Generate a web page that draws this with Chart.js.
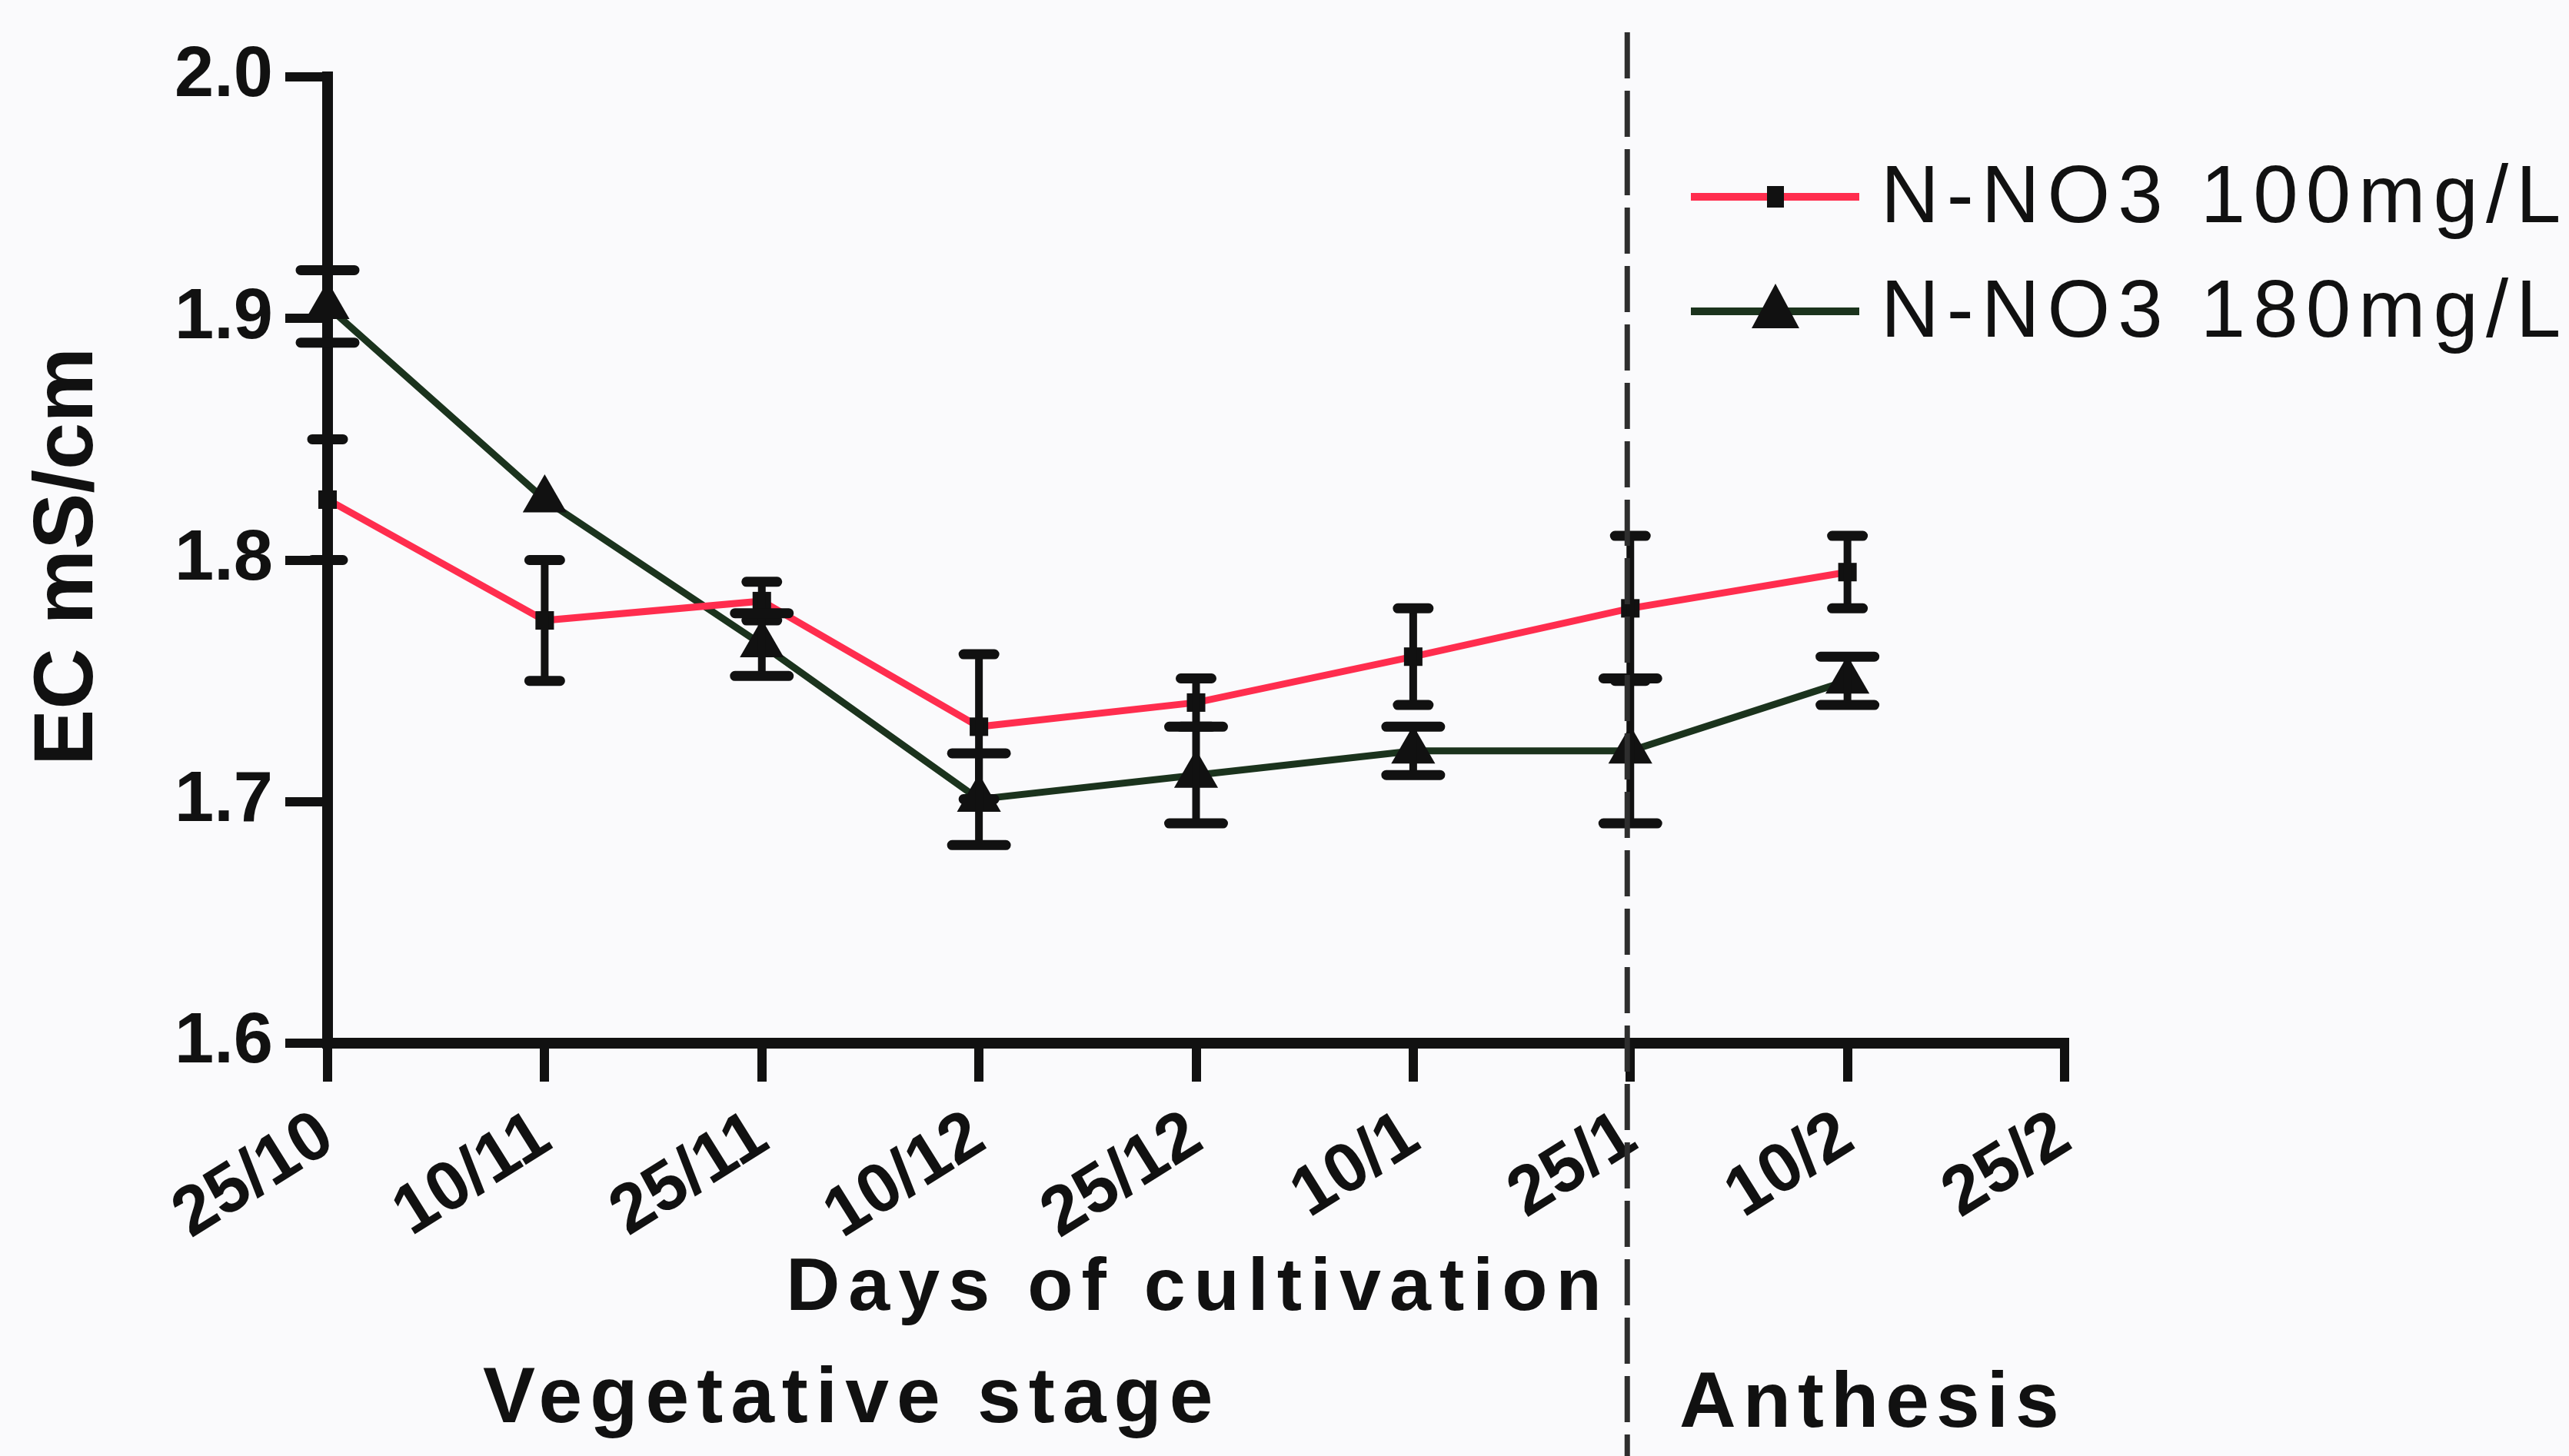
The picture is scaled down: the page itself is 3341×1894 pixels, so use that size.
<!DOCTYPE html>
<html lang="en">
<head>
  <meta charset="UTF-8">
  <title>EC mS/cm</title>
  <script src="https://cdn.jsdelivr.net/npm/chart.js"></script>
  <style>
    html, body { margin: 0; padding: 0; background: #fafafc; }
  </style>
</head>
<body>
  <canvas id="grafico" width="3341" height="1894"></canvas>
  <script>
    // data
    const dias = ["25/10", "10/11", "25/11", "10/12", "25/12", "10/1", "25/1", "10/2", "25/2"];
    const ec100 = [1.825, 1.775, 1.783, 1.731, 1.741, 1.760, 1.780, 1.795, null];
    const erro100 = [0.025, 0.025, 0.008, 0.030, 0.010, 0.020, 0.030, 0.015, null];
    const ec180 = [1.905, 1.825, 1.765, 1.701, 1.711, 1.721, 1.721, 1.750, null];
    const erro180 = [0.015, 0, 0.013, 0.019, 0.020, 0.010, 0.030, 0.010, null];
    const nomes = ["N-NO3 100mg/L", "N-NO3 180mg/L"];
    const yTicks = [1.6, 1.7, 1.8, 1.9, 2.0];
    const tituloY = "EC mS/cm";
    const tituloX = "Days of cultivation";
    const estagios = ["Vegetative stage", "Anthesis"];
    const divisao = "25/1";

    const vermelho = "#ff2d4e";
    const verde = "#1b331d";
    const fonte = "'Liberation Sans', Arial, sans-serif";

    // error bars (green caps are wider than red ones in the original)
    const barrasErro = {
      id: 'barrasErro',
      afterDatasetsDraw(chart) {
        const c = chart.ctx;
        const y = chart.scales.y;
        const erros = [erro100, erro180];
        const capa = [20, 35];
        c.save();
        c.strokeStyle = "#111";
        chart.data.datasets.forEach((ds, i) => {
          const meta = chart.getDatasetMeta(i);
          ds.data.forEach((v, j) => {
            if (v == null || !erros[i][j]) return;
            const px = meta.data[j].x;
            const top = y.getPixelForValue(v + erros[i][j]);
            const bot = y.getPixelForValue(v - erros[i][j]);
            c.lineWidth = 10;
            c.beginPath();
            c.moveTo(px, top);
            c.lineTo(px, bot);
            c.stroke();
            c.lineWidth = 13;
            c.lineCap = "round";
            c.beginPath();
            c.moveTo(px - capa[i], top); c.lineTo(px + capa[i], top);
            c.moveTo(px - capa[i], bot); c.lineTo(px + capa[i], bot);
            c.stroke();
            c.lineCap = "butt";
          });
        });
        c.restore();
      }
    };

    // dashed divider, stage labels, axis titles, legend
    const textos = {
      id: 'textos',
      afterDraw(chart) {
        const c = chart.ctx;
        const x = chart.scales.x;
        const xd = x.getPixelForValue(dias.indexOf(divisao));
        c.save();
        c.strokeStyle = "#2e2e2e";
        c.lineWidth = 7;
        c.setLineDash([60, 16]);
        c.beginPath();
        c.moveTo(xd - 4, 42);
        c.lineTo(xd - 4, 1894);
        c.stroke();
        c.setLineDash([]);

        c.fillStyle = "#111";
        c.textBaseline = "middle";
        c.font = "bold 97px " + fonte;
        c.letterSpacing = "11px";
        c.textAlign = "center";
        c.fillText(tituloX, 1558, 1677);
        c.font = "bold 102px " + fonte;
        c.letterSpacing = "10px";
        c.textAlign = "left";
        c.fillText(estagios[0], 628, 1822);
        c.letterSpacing = "9px";
        c.fillText(estagios[1], 2184, 1828);

        // y title
        c.letterSpacing = "0px";
        c.save();
        c.translate(90, 724);
        c.rotate(-Math.PI / 2);
        c.textAlign = "center";
        c.font = "bold 110px " + fonte;
        c.fillText(tituloY, 0, 0);
        c.restore();

        // legend
        const cores = [vermelho, verde];
        const ys = [256, 405];
        c.font = "105px " + fonte;
        c.letterSpacing = "10px";
        c.textAlign = "left";
        nomes.forEach((n, i) => {
          c.strokeStyle = cores[i];
          c.lineWidth = 10;
          c.beginPath();
          c.moveTo(2199, ys[i]);
          c.lineTo(2418, ys[i]);
          c.stroke();
          c.fillStyle = "#111";
          if (i === 0) {
            c.fillRect(2298, ys[i] - 14, 22, 28);
          } else {
            c.beginPath();
            c.moveTo(2309, ys[i] - 36);
            c.lineTo(2340, ys[i] + 22);
            c.lineTo(2278, ys[i] + 22);
            c.closePath();
            c.fill();
          }
          c.fillText(n, 2446, ys[i] + 4);
        });
        c.restore();
      }
    };

    const grafico = new Chart(document.getElementById('grafico'), {
      type: 'line',
      data: {
        labels: dias,
        datasets: [{
          label: nomes[0],
          data: ec100,
          borderColor: vermelho,
          borderWidth: 9,
          pointStyle: 'rect',
          pointRadius: 17,
          pointBackgroundColor: "#111",
          pointBorderColor: "#111",
          pointBorderWidth: 0,
          tension: 0,
          clip: false
        }, {
          label: nomes[1],
          data: ec180,
          borderColor: verde,
          borderWidth: 9,
          pointStyle: 'triangle',
          pointRadius: 33,
          pointBackgroundColor: "#111",
          pointBorderColor: "#111",
          pointBorderWidth: 0,
          tension: 0,
          clip: false
        }]
      },
      options: {
        responsive: false,
        devicePixelRatio: 1,
        animation: false,
        layout: { padding: { top: 100, right: 656, left: 0, bottom: 0 } },
        plugins: { legend: { display: false }, tooltip: { enabled: false } },
        scales: {
          x: {
            type: 'category',
            offset: false,
            afterFit: s => { s.height = 537; },
            border: { color: "#111", width: 14 },
            grid: { drawOnChartArea: false, color: "#111", tickLength: 50, lineWidth: 12 },
            ticks: {
              color: "#111",
              font: { family: fonte, weight: 'bold', size: 90 },
              minRotation: 32,
              maxRotation: 32,
              padding: 18,
              autoSkip: false
            }
          },
          y: {
            min: 1.6,
            max: 2.0,
            afterFit: s => { s.width = 426; },
            afterBuildTicks: s => { s.ticks = yTicks.map(v => ({ value: v })); },
            border: { color: "#111", width: 14 },
            grid: { drawOnChartArea: false, color: "#111", tickLength: 55, lineWidth: 12 },
            ticks: {
              color: "#111",
              font: { family: fonte, weight: 'bold', size: 92 },
              padding: 16,
              callback: v => v.toFixed(1)
            }
          }
        }
      },
      plugins: [barrasErro, textos]
    });
  </script>
</body>
</html>
